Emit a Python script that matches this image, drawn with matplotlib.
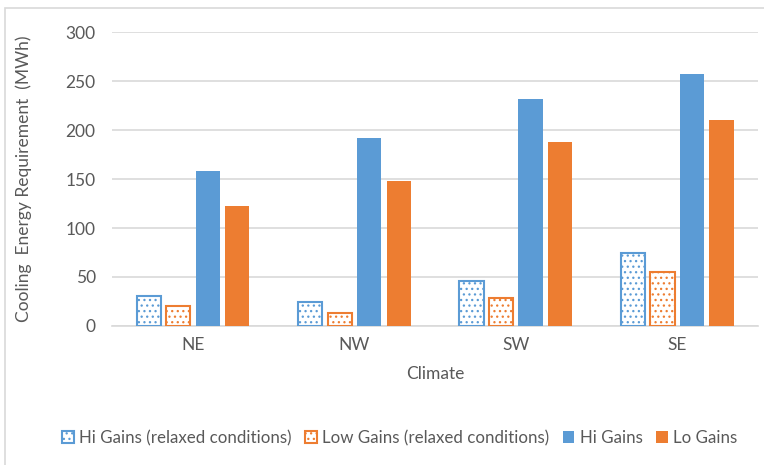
import matplotlib
matplotlib.use("Agg")
import matplotlib.pyplot as plt
import numpy as np
from matplotlib.patches import Rectangle

plt.rcParams['font.family'] = ['Lato', 'DejaVu Sans']
plt.rcParams['hatch.linewidth'] = 0.9

climates = ["NE", "NW", "SW", "SE"]
hi_relaxed = [31, 24, 46, 74]
low_relaxed = [20, 13, 29, 55]
hi_gains = [158, 192, 232, 257]
lo_gains = [122, 148, 188, 210]
y_ticks = [0, 50, 100, 150, 200, 250, 300]

blue = "#5b9bd5"
orange = "#ed7d31"
text_col = "#595959"
grid_col = "#d9d9d9"

fig = plt.figure(figsize=(7.64, 4.65), dpi=100)
ax = fig.add_axes([0.147, 0.299, 0.845, 0.632])

x = np.arange(len(climates))
w = 0.15
step = 0.183
offsets = np.array([-1.5, -0.5, 0.5, 1.5]) * step

ax.bar(x + offsets[0], hi_relaxed, w, color="white", edgecolor=blue,
       hatch="...", linewidth=1.5, label="Hi Gains (relaxed conditions)", zorder=3)
ax.bar(x + offsets[1], low_relaxed, w, color="white", edgecolor=orange,
       hatch="...", linewidth=1.5, label="Low Gains (relaxed conditions)", zorder=3)
ax.bar(x + offsets[2], hi_gains, w, color=blue, label="Hi Gains", zorder=3)
ax.bar(x + offsets[3], lo_gains, w, color=orange, label="Lo Gains", zorder=3)

ax.set_xlim(-0.5, len(climates) - 0.5)
ax.set_ylim(0, 300)
ax.set_yticks(y_ticks)
ax.set_xticks(x)
ax.set_xticklabels(climates)
ax.yaxis.grid(True, color=grid_col, linewidth=1.2, zorder=0)
ax.set_axisbelow(True)
for s in ["top", "right", "left"]:
    ax.spines[s].set_visible(False)
ax.spines["bottom"].set_color(grid_col)
ax.spines["bottom"].set_linewidth(1.2)
ax.tick_params(axis="both", length=0, colors=text_col, labelsize=12.5)
ax.tick_params(axis="y", pad=12)
ax.tick_params(axis="x", pad=8)

ax.set_xlabel("Climate", fontsize=12.5, color=text_col, labelpad=9)
ax.set_ylabel("Cooling  Energy Requirement  (MWh)", fontsize=12.5, color=text_col, labelpad=24)

leg = fig.legend(loc="center", bbox_to_anchor=(0.523, 0.058), ncol=4, frameon=False,
                 fontsize=12.2, handlelength=0.7, handleheight=0.7, handletextpad=0.3,
                 columnspacing=0.8, labelcolor=text_col)

fig.patches.append(Rectangle((5 / 764, -0.1), 1.2, 1 - 8 / 465 + 0.1, transform=fig.transFigure,
                             fill=False, edgecolor="#d9d9d9", linewidth=1.2))

fig.savefig("out.png", dpi=100)
